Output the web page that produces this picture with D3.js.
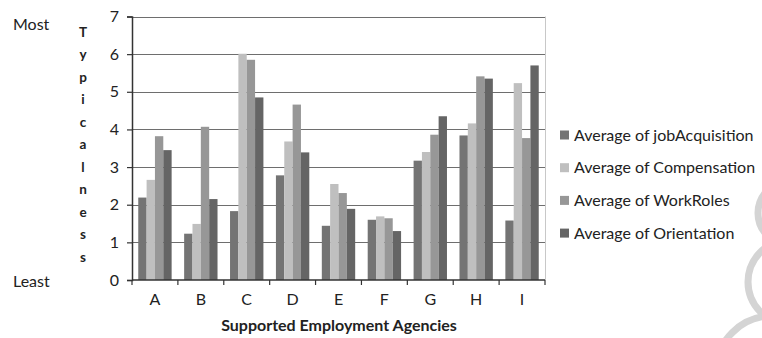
<!DOCTYPE html>
<html>
<head>
<meta charset="utf-8">
<script src="https://cdn.jsdelivr.net/npm/d3@7/dist/d3.min.js"></script>
<style>
  html, body { margin: 0; padding: 0; background: #fff; }
  svg { display: block; font-family: Lato, "Open Sans", sans-serif; }
</style>
</head>
<body>
<svg id="chart" width="762" height="338"></svg>
<script>
const categories = ["A", "B", "C", "D", "E", "F", "G", "H", "I"];
const seriesNames = [
  "Average of jobAcquisition",
  "Average of Compensation",
  "Average of WorkRoles",
  "Average of Orientation"
];
const jobAcquisition = [2.19, 1.23, 1.83, 2.78, 1.44, 1.60, 3.17, 3.84, 1.58];
const compensation   = [2.66, 1.49, 6.01, 3.68, 2.55, 1.69, 3.40, 4.16, 5.23];
const workRoles      = [3.82, 4.07, 5.85, 4.66, 2.31, 1.64, 3.86, 5.41, 3.77];
const orientation    = [3.45, 2.15, 4.85, 3.39, 1.89, 1.30, 4.35, 5.35, 5.70];
const yTicks = [0, 1, 2, 3, 4, 5, 6, 7];
const yAxisLetters = ["T", "y", "p", "i", "c", "a", "l", "n", "e", "s", "s"];
const colors = ["#747474", "#bfbfbf", "#979797", "#656565"];

const seriesValues = [jobAcquisition, compensation, workRoles, orientation];

const svg = d3.select("#chart");
const plot = { left: 132, right: 545, top: 16.5, bottom: 280 };

// watermark arcs (decorative)
const wm = svg.append("g").attr("fill", "none").attr("stroke", "#d4d4d4").attr("stroke-width", 7);
wm.append("circle").attr("cx", 790).attr("cy", 213).attr("r", 32);
wm.append("circle").attr("cx", 790).attr("cy", 282).attr("r", 42);
wm.append("circle").attr("cx", 772).attr("cy", 372).attr("r", 56);

const y = d3.scaleLinear().domain([0, 7]).range([plot.bottom, plot.top]);
const x = d3.scaleBand().domain(categories).range([plot.left, plot.right])
  .paddingInner(1.5 / 5.5).paddingOuter(0.75 / 5.5);
const xs = d3.scaleBand().domain(d3.range(seriesNames.length)).range([0, x.bandwidth()]);

// gridlines
svg.append("g").selectAll("line").data(yTicks.filter(d => d > 0)).join("line")
  .attr("x1", plot.left).attr("x2", plot.right)
  .attr("y1", d => Math.round(y(d)) + 0.5).attr("y2", d => Math.round(y(d)) + 0.5)
  .attr("stroke", "#6e6e6e").attr("stroke-width", 1.2);

// right border of plot area
svg.append("line").attr("x1", plot.right + 0.5).attr("x2", plot.right + 0.5)
  .attr("y1", plot.top).attr("y2", plot.bottom)
  .attr("stroke", "#c8c8c8").attr("stroke-width", 1);

// bars
const groups = svg.append("g").selectAll("g").data(categories).join("g")
  .attr("transform", c => `translate(${x(c)},0)`);
groups.selectAll("rect").data((c, i) => seriesValues.map((s, k) => ({ k, v: s[i] }))).join("rect")
  .attr("x", d => xs(d.k))
  .attr("width", xs.bandwidth())
  .attr("y", d => y(d.v))
  .attr("height", d => y(0) - y(d.v))
  .attr("fill", d => colors[d.k]);

// y axis
const yAxis = d3.axisLeft(y).tickValues(yTicks).tickSize(5).tickPadding(8).tickFormat(d3.format("d"));
const gy = svg.append("g").attr("transform", `translate(${plot.left},0)`).call(yAxis);
gy.select(".domain").attr("stroke", "#333").attr("stroke-width", 1.5);
gy.selectAll(".tick line").attr("stroke", "#333").attr("stroke-width", 1.2);
gy.selectAll(".tick text").attr("font-size", 16).attr("fill", "#222").attr("font-family", "Lato, sans-serif");

// x axis with ticks between categories
const gx = svg.append("g").attr("transform", `translate(0,${plot.bottom})`);
gx.append("line").attr("x1", plot.left).attr("x2", plot.right).attr("y1", 0).attr("y2", 0)
  .attr("stroke", "#333").attr("stroke-width", 1.5);
const step = x.step();
gx.selectAll("line.tk").data(d3.range(categories.length + 1)).join("line").attr("class", "tk")
  .attr("x1", i => plot.left + i * step).attr("x2", i => plot.left + i * step)
  .attr("y1", 0).attr("y2", 5).attr("stroke", "#333").attr("stroke-width", 1.2);
gx.selectAll("text").data(categories).join("text")
  .attr("x", c => x(c) + x.bandwidth() / 2).attr("y", 25)
  .attr("text-anchor", "middle").attr("font-size", 16).attr("fill", "#222")
  .text(c => c);

// x title
svg.append("text").attr("x", 339).attr("y", 331).attr("text-anchor", "middle")
  .attr("font-size", 16).attr("font-weight", "bold").attr("fill", "#222")
  .text("Supported Employment Agencies");

// Most / Least
svg.append("text").attr("x", 13).attr("y", 30).attr("font-size", 16).attr("fill", "#222").text("Most");
svg.append("text").attr("x", 13).attr("y", 287).attr("font-size", 16).attr("fill", "#222").text("Least");

// vertical stacked letters
svg.append("g").selectAll("text").data(yAxisLetters).join("text")
  .attr("x", 83).attr("y", (d, i) => 36.5 + i * 22.5)
  .attr("text-anchor", "middle").attr("font-size", 13.5).attr("font-weight", "bold").attr("fill", "#222")
  .text(d => d);

// legend
const lg = svg.append("g").selectAll("g").data(seriesNames).join("g")
  .attr("transform", (d, i) => `translate(560,${135 + i * 32.7})`);
lg.append("rect").attr("x", 0).attr("y", -4.5).attr("width", 9).attr("height", 9)
  .attr("fill", (d, i) => colors[i]);
lg.append("text").attr("x", 14).attr("y", 5.5).attr("font-size", 16).attr("fill", "#222").text(d => d);
</script>
</body>
</html>
